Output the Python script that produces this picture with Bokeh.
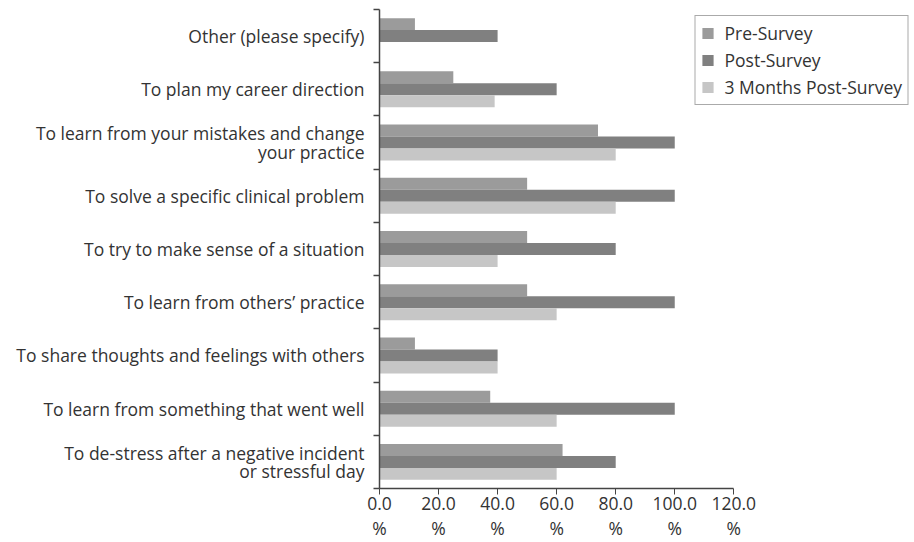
from bokeh.plotting import figure
from bokeh.models import (Range1d, LinearAxis, FixedTicker, CustomJSTickFormatter,
                          ColumnDataSource)
from bokeh.transform import dodge
from bokeh.embed import file_html
from bokeh.resources import INLINE

categories = [
    "Other (please specify)",
    "To plan my career direction",
    "To learn from your mistakes and change\nyour practice",
    "To solve a specific clinical problem",
    "To try to make sense of a situation",
    "To learn from others\u2019 practice",
    "To share thoughts and feelings with others",
    "To learn from something that went well",
    "To de-stress after a negative incident\nor stressful day",
]
pre_survey = [12, 25, 74, 50, 50, 50, 12, 37.5, 62]
post_survey = [40, 60, 100, 100, 80, 100, 40, 100, 80]
months3_survey = [0, 39, 80, 80, 40, 60, 40, 60, 60]
series_names = ["Pre-Survey", "Post-Survey", "3 Months Post-Survey"]
x_ticks = [0, 20, 40, 60, 80, 100, 120]

FONT = "Open Sans"
FS = "17.5px"
TEXT = "#333333"
AXIS = "#444444"
colors = ["#9b9b9b", "#808080", "#c6c6c6"]

n = len(categories)
centers = [n - 1 - i + 0.5 for i in range(n)]   # category slot centres (top to bottom)
src = ColumnDataSource(dict(y=centers, pre=pre_survey, post=post_survey, m3=months3_survey))

p = figure(width=914, height=542,
           y_range=Range1d(0, n),
           x_range=Range1d(0, 181.2),
           output_backend="svg", toolbar_location=None,
           y_axis_location=None,
           min_border_left=379, min_border_top=9,
           min_border_bottom=52, min_border_right=0)

bh = 0.225
for col, off, color, name in zip(["pre", "post", "m3"], [bh, 0, -bh], colors, series_names):
    p.hbar(y=dodge("y", off), left=0, right=col, height=bh,
           source=src, fill_color=color, line_color=None, legend_label=name)

# axis with ticks at category boundaries
edge_axis = LinearAxis(ticker=FixedTicker(ticks=list(range(n + 1))),
                       formatter=CustomJSTickFormatter(code="return '';"),
                       major_tick_out=6, major_tick_in=0,
                       minor_tick_line_color=None,
                       axis_line_color=AXIS, major_tick_line_color=AXIS,
                       axis_line_width=1.5, major_tick_line_width=1.5,
                       major_label_standoff=0,
                       major_label_text_font_size="1px")
p.add_layout(edge_axis, "left")

# axis carrying the category labels at slot centres
label_axis = LinearAxis(ticker=FixedTicker(ticks=centers),
                        major_label_overrides={c: lab for c, lab in zip(centers, categories)},
                        axis_line_color=None, major_tick_line_color=None,
                        minor_tick_line_color=None,
                        major_tick_out=0, major_tick_in=0,
                        major_label_standoff=9,
                        major_label_text_font=FONT,
                        major_label_text_font_size=FS,
                        major_label_text_color=TEXT,
                        major_label_text_line_height=0.78)
p.add_layout(label_axis, "left")

xa = p.xaxis[0]
xa.ticker = FixedTicker(ticks=x_ticks)
xa.bounds = (0, 120)
xa.formatter = CustomJSTickFormatter(code="return tick.toFixed(1) + '\\n%';")
xa.major_tick_in = 0
xa.major_tick_out = 6
xa.minor_tick_line_color = None
xa.axis_line_color = AXIS
xa.major_tick_line_color = AXIS
xa.axis_line_width = 1.5
xa.major_label_standoff = -4
xa.major_label_text_font = FONT
xa.major_label_text_font_size = FS
xa.major_label_text_color = TEXT
xa.major_label_text_line_height = 1.05

p.xgrid.visible = False
p.ygrid.visible = False
p.outline_line_color = None

lg = p.legend[0]
lg.location = "top_right"
lg.margin = 6
lg.padding = 5
lg.spacing = 3
lg.glyph_width = 14
lg.glyph_height = 14
lg.label_standoff = 10
lg.label_text_font = FONT
lg.label_text_font_size = FS
lg.label_text_color = TEXT
lg.border_line_color = "#555555"
lg.border_line_width = 1.5
lg.background_fill_alpha = 1

open("out.html", "w").write(file_html(p, INLINE))
